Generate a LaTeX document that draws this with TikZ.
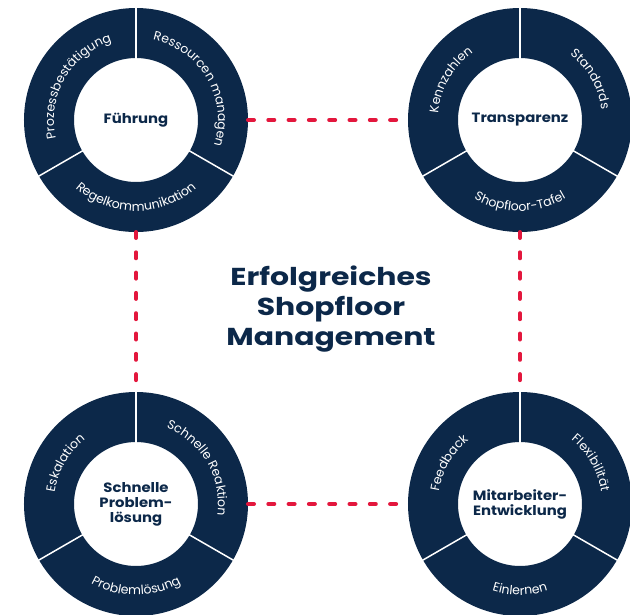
\documentclass[tikz,border=0pt]{standalone}
\usepackage{fontspec}
\setmainfont{Poppins}
\newfontfamily\widefont{Poppins}[FakeStretch=1.22]
\newfontfamily\hubfont{Poppins}[FakeStretch=1.1]
\usetikzlibrary{positioning,decorations.text}
\definecolor{navy}{HTML}{0C2849}
\definecolor{sfmred}{HTML}{E3173D}

\begin{document}
\begin{tikzpicture}[x=1pt,y=1pt,node distance=384pt,on grid,
	hub/.style={circle,fill=white,draw=navy,line width=50pt,minimum size=174pt,inner sep=0pt,
		text=navy,align=center,font=\hubfont\bfseries\fontsize{13.5}{15}\selectfont},
	headline/.style={text=navy,align=center,font=\widefont\bfseries\fontsize{24.5}{30}\selectfont},
	link/.style={sfmred,line width=4pt,line cap=round,dash pattern=on 6pt off 14.3pt},
	divider/.style={white,line width=1.5pt},
	ringtext/.style={decorate,decoration={text along path,text align=center,text color=white,
		text={|\fontsize{12.5}{12.5}\selectfont|#1}}}]

	\useasboundingbox (0,0) rectangle (630,-614);

	\node[hub] (fuehrung) at (136,-120) {Führung};
	\node[hub] (transparenz) [right=of fuehrung] {Transparenz};
	\node[hub] (loesung) [below=of fuehrung] {Schnelle\\Problem-\\lösung};
	\node[hub] (entwicklung) [right=of loesung] {Mitarbeiter-\\Entwicklung};

	\node[headline] (titel) at (331,-309) {Erfolgreiches\\Shopfloor\\Management};

	\path[link]
		(fuehrung) edge (transparenz)
		           edge (loesung)
		(transparenz) edge (entwicklung)
		(loesung) edge (entwicklung);

	% Trennlinien der Ringe
	\foreach \hubname in {fuehrung,transparenz,loesung,entwicklung}
		\foreach \w in {90,210,330}
			\draw[divider] (\hubname.center) ++(\w:61) -- ++(\w:52);

	% Beschriftung der Ringsegmente
	\path[ringtext=Prozessbestätigung] (fuehrung.center) ++(205:82) arc[start angle=205,end angle=95,radius=82];
	\path[ringtext=Ressourcen managen] (fuehrung.center) ++(85:82) arc[start angle=85,end angle=-25,radius=82];
	\path[ringtext=Regelkommunikation] (fuehrung.center) ++(215:91) arc[start angle=215,end angle=325,radius=91];

	\path[ringtext=Kennzahlen] (transparenz.center) ++(205:82) arc[start angle=205,end angle=95,radius=82];
	\path[ringtext=Standards] (transparenz.center) ++(85:82) arc[start angle=85,end angle=-25,radius=82];
	\path[ringtext=Shopfloor-Tafel] (transparenz.center) ++(215:91) arc[start angle=215,end angle=325,radius=91];

	\path[ringtext=Eskalation] (loesung.center) ++(205:82) arc[start angle=205,end angle=95,radius=82];
	\path[ringtext=Schnelle Reaktion] (loesung.center) ++(85:82) arc[start angle=85,end angle=-25,radius=82];
	\path[ringtext=Problemlösung] (loesung.center) ++(215:91) arc[start angle=215,end angle=325,radius=91];

	\path[ringtext=Feedback] (entwicklung.center) ++(205:82) arc[start angle=205,end angle=95,radius=82];
	\path[ringtext=Flexibilität] (entwicklung.center) ++(85:82) arc[start angle=85,end angle=-25,radius=82];
	\path[ringtext=Einlernen] (entwicklung.center) ++(215:91) arc[start angle=215,end angle=325,radius=91];

\end{tikzpicture}
\end{document}
